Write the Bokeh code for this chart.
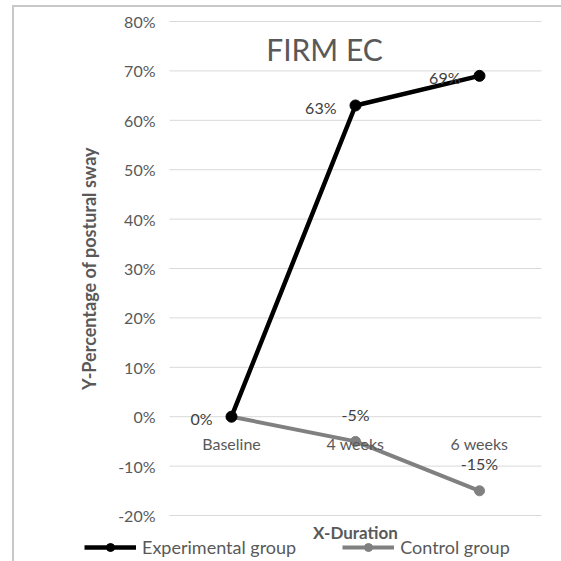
from bokeh.core.properties import value
from bokeh.embed import file_html
from bokeh.models import (ColumnDataSource, FixedTicker, InlineStyleSheet, Label, Legend,
                          LegendItem, LinearAxis, NumeralTickFormatter, Range1d)
from bokeh.plotting import figure
from bokeh.resources import INLINE

# ---- data -------------------------------------------------------------
durations = ["Baseline", "4 weeks", "6 weeks"]
experimental = [0.0, 0.63, 0.69]
control = [0.0, -0.05, -0.15]
y_ticks = [-0.2, -0.1, 0.0, 0.1, 0.2, 0.3, 0.4, 0.5, 0.6, 0.7, 0.8]

chart_title = "FIRM EC"
y_title = "Y-Percentage of postural sway"
x_title = "X-Duration"
series_names = ["Experimental group", "Control group"]

# ---- styling ----------------------------------------------------------
FONT = "Lato"
TEXT_GREY = "#595959"
LABEL_GREY = "#404040"
GRID_GREY = "#d9d9d9"
EXP_COLOR = "#000000"
CTL_COLOR = "#808080"

W, H = 561, 561
# plot area inside the canvas (pixels)
AREA_L, AREA_R, AREA_T, AREA_B = 169, 541, 21, 515
Y_MIN, Y_MAX = y_ticks[0], y_ticks[-1]
N = len(durations)

# category slots are one unit wide, centred on i + 0.5
x_pos = [i + 0.5 for i in range(N)]
PX_PER_X = (AREA_R - AREA_L) / N
PX_PER_Y = (AREA_B - AREA_T) / (Y_MAX - Y_MIN)

# the frame fills the canvas; ranges are widened so the plot area lands in place
x_range = Range1d(-AREA_L / PX_PER_X, N + (W - AREA_R) / PX_PER_X)
y_range = Range1d(Y_MIN - (H - AREA_B) / PX_PER_Y, Y_MAX + AREA_T / PX_PER_Y)

# light chart-area border (left and top edges show; the rest runs off the page)
border_css = InlineStyleSheet(css="""
:host { position: relative; }
:host::after {
  content: ""; position: absolute; pointer-events: none;
  left: 12px; top: 5px; width: 600px; height: 600px;
  border: 2px solid #c8c8c8; box-sizing: border-box;
}
""")

p = figure(
    width=W, height=H, x_range=x_range, y_range=y_range,
    output_backend="svg", toolbar_location=None,
    x_axis_location=None, y_axis_location=None,
    min_border=0, min_border_left=0, min_border_right=0,
    min_border_top=0, min_border_bottom=0,
    stylesheets=[border_css],
)
p.outline_line_color = None
p.background_fill_color = "white"
p.border_fill_color = "white"
p.xgrid.visible = False
p.ygrid.visible = False

# horizontal gridlines across the plot area only
p.segment(x0=0, x1=N, y0=y_ticks, y1=y_ticks, line_color=GRID_GREY, line_width=1)

# value axis pinned to the left edge of the plot area
yaxis = LinearAxis(
    fixed_location=0, bounds=(Y_MIN, Y_MAX),
    ticker=FixedTicker(ticks=y_ticks),
    formatter=NumeralTickFormatter(format="0%"),
    axis_line_color=None, major_tick_line_color=None, minor_tick_line_color=None,
    major_tick_out=0, major_tick_in=0,
    major_label_standoff=14,
    major_label_text_font=FONT, major_label_text_font_size="16px",
    major_label_text_color=TEXT_GREY,
    axis_label=y_title, axis_label_standoff=15,
    axis_label_text_font=FONT, axis_label_text_font_size="18px",
    axis_label_text_font_style="bold", axis_label_text_color=TEXT_GREY,
)
p.add_layout(yaxis, "left")

# category axis pinned to the zero line
xaxis = LinearAxis(
    fixed_location=0, bounds=(0, N),
    ticker=FixedTicker(ticks=x_pos),
    major_label_overrides={x: name for x, name in zip(x_pos, durations)},
    axis_line_color=None, major_tick_line_color=None, minor_tick_line_color=None,
    major_tick_out=0, major_tick_in=0,
    major_label_standoff=17,
    major_label_text_font=FONT, major_label_text_font_size="16px",
    major_label_text_color=TEXT_GREY,
    axis_label=x_title, axis_label_standoff=66,
    axis_label_text_font=FONT, axis_label_text_font_size="17px",
    axis_label_text_font_style="bold", axis_label_text_color=TEXT_GREY,
)
p.add_layout(xaxis, "below")

# ---- series -------------------------------------------------------------
exp_src = ColumnDataSource(dict(x=x_pos, y=experimental,
                                lbl=[f"{v:.0%}" for v in experimental]))
ctl_src = ColumnDataSource(dict(x=x_pos, y=control,
                                lbl=[f"{v:.0%}" for v in control]))

ctl_line = p.line("x", "y", source=ctl_src, line_color=CTL_COLOR, line_width=4)
ctl_dots = p.scatter("x", "y", source=ctl_src, size=10, color=CTL_COLOR)
exp_line = p.line("x", "y", source=exp_src, line_color=EXP_COLOR, line_width=4.5)
exp_dots = p.scatter("x", "y", source=exp_src, size=11, color=EXP_COLOR)

# data labels: experimental to the left of each point
p.text("x", "y", text="lbl", source=exp_src,
       x_offset=-19, y_offset=2,
       text_align="right", text_baseline="middle",
       text_font=value(FONT), text_font_size="16px", text_color=LABEL_GREY)

# control labels above the later points (baseline shares the 0% label)
ctl_lbl_src = ColumnDataSource(dict(x=x_pos[1:], y=control[1:],
                                    lbl=[f"{v:.0%}" for v in control[1:]]))
p.text("x", "y", text="lbl", source=ctl_lbl_src,
       x_offset=0, y_offset=-27,
       text_align="center", text_baseline="middle",
       text_font=value(FONT), text_font_size="16px", text_color=LABEL_GREY)

# ---- chart title inside the plot area ------------------------------------
p.add_layout(Label(x=(324 - AREA_L) / PX_PER_X, y=Y_MAX - (48 - AREA_T) / PX_PER_Y,
                   text=chart_title, text_align="center", text_baseline="middle",
                   text_font=FONT, text_font_size="30px", text_color=TEXT_GREY))

# ---- legend along the bottom --------------------------------------------
legend = Legend(
    items=[LegendItem(label=series_names[0], renderers=[exp_line, exp_dots]),
           LegendItem(label=series_names[1], renderers=[ctl_line, ctl_dots])],
    location=(84, H - 558),
    orientation="horizontal",
    glyph_width=52, glyph_height=20, label_height=20, label_standoff=6,
    padding=0, margin=0, spacing=46,
    border_line_color=None, background_fill_alpha=0,
    label_text_font=FONT, label_text_font_size="18px", label_text_color=TEXT_GREY,
)
p.add_layout(legend, "center")

open("out.html", "w").write(file_html(p, INLINE))
